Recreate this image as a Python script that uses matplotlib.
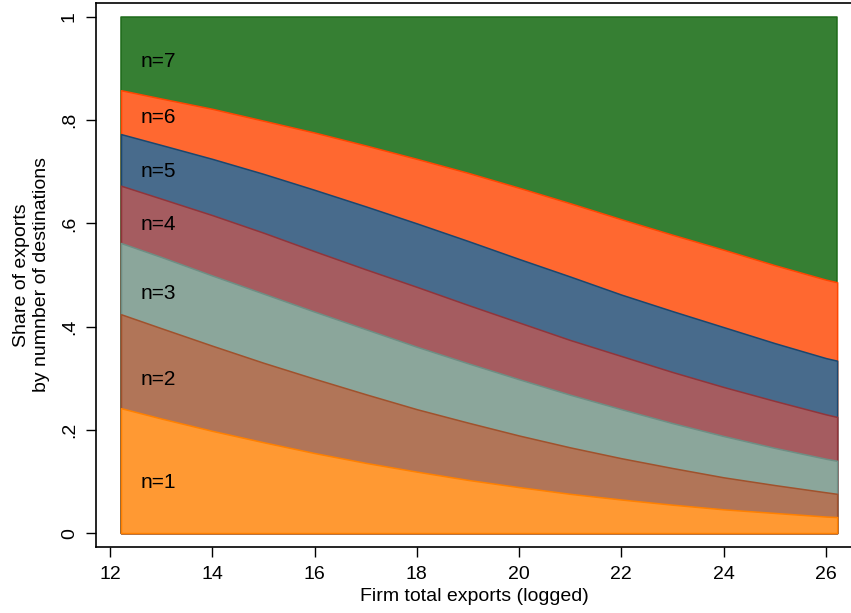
import matplotlib
matplotlib.use("Agg")
import matplotlib.pyplot as plt

plt.rcParams['font.family'] = ['Liberation Sans', 'DejaVu Sans']

# firm total exports (logged)
log_exports = [12.215, 13, 14, 15, 16, 17, 18, 19, 20, 21, 22, 23, 24, 25, 26, 26.22]

# cumulative share of exports = upper edge of each band (n=1 .. n=6)
cum_n1 = [0.242, 0.222, 0.198, 0.176, 0.155, 0.136, 0.119, 0.103, 0.089, 0.076, 0.065, 0.055, 0.046, 0.039, 0.032, 0.031]
cum_n2 = [0.424, 0.397, 0.363, 0.330, 0.299, 0.269, 0.240, 0.214, 0.189, 0.166, 0.145, 0.126, 0.108, 0.093, 0.079, 0.076]
cum_n3 = [0.562, 0.535, 0.499, 0.464, 0.429, 0.395, 0.361, 0.329, 0.298, 0.268, 0.240, 0.213, 0.188, 0.165, 0.144, 0.140]
cum_n4 = [0.673, 0.648, 0.616, 0.582, 0.546, 0.511, 0.477, 0.442, 0.408, 0.374, 0.343, 0.312, 0.283, 0.256, 0.230, 0.225]
cum_n5 = [0.773, 0.752, 0.725, 0.696, 0.665, 0.633, 0.600, 0.566, 0.531, 0.497, 0.462, 0.430, 0.399, 0.368, 0.339, 0.334]
cum_n6 = [0.858, 0.842, 0.822, 0.799, 0.776, 0.751, 0.725, 0.698, 0.669, 0.639, 0.608, 0.578, 0.549, 0.519, 0.491, 0.486]
cum_n7 = [1.0] * len(log_exports)

labels = ["n=1", "n=2", "n=3", "n=4", "n=5", "n=6", "n=7"]
label_y = [0.097, 0.298, 0.465, 0.597, 0.700, 0.806, 0.913]

fills = ["#FF9933", "#B17558", "#8BA69B", "#A55C60", "#486B8C", "#FF6830", "#367F33"]
edges = ["#FF8000", "#A0522D", "#6E8E84", "#90353B", "#1A476F", "#FF4500", "#1E6B1A"]

fig = plt.figure(figsize=(8.51, 6.13), dpi=100)
ax = fig.add_axes([96 / 851, 1 - 547 / 613, 757 / 851, 544 / 613])

bands = [cum_n1, cum_n2, cum_n3, cum_n4, cum_n5, cum_n6, cum_n7]
# each area runs from 0 up to its cumulative share, biggest first, like stata does it
for i in range(len(bands) - 1, -1, -1):
    ax.fill_between(log_exports, 0, bands[i], facecolor=fills[i],
                    edgecolor=edges[i], linewidth=1.1, zorder=2)

for i in range(len(labels)):
    ax.text(12.6, label_y[i], labels[i], fontsize=15, va='center', ha='left', zorder=5)

ax.set_xlim(11.726, 26.53)
ax.set_ylim(-0.027, 1.027)

ax.set_xticks([12, 14, 16, 18, 20, 22, 24, 26])
ax.set_yticks([0, 0.2, 0.4, 0.6, 0.8, 1])
ax.set_yticklabels(["0", ".2", ".4", ".6", ".8", "1"], rotation=90, va='center')
ax.tick_params(axis='x', labelsize=14, length=7, width=1, direction='out', pad=7)
ax.tick_params(axis='y', labelsize=14, length=7, width=1, direction='out', pad=6)

for side in ['left', 'bottom', 'top', 'right']:
    ax.spines[side].set_linewidth(1.2)

ax.set_xlabel("Firm total exports (logged)", fontsize=14, labelpad=3)
ax.set_ylabel("Share of exports\nby numnber of destinations", fontsize=14, labelpad=8)

fig.savefig("out.png", dpi=100)
